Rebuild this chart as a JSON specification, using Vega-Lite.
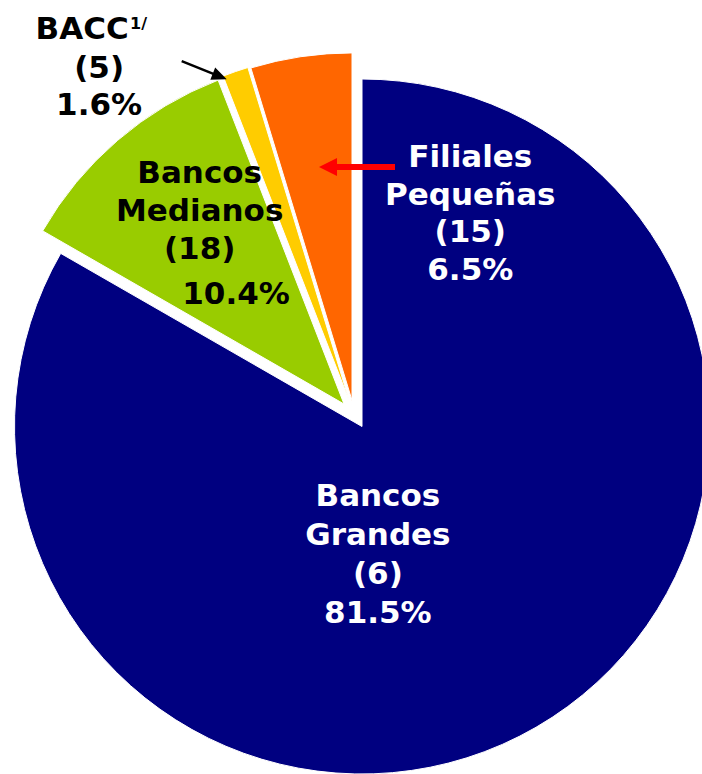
{
  "$schema": "https://vega.github.io/schema/vega-lite/v6.json",
  "width": 702,
  "height": 774,
  "padding": 0,
  "autosize": {"type": "none"},
  "background": "white",
  "config": {"view": {"stroke": null}},
  "data": {
    "values": [
      {"cat": "Bancos Grandes", "order": 1, "share": 83.3, "n": 6, "name": "Bancos Grandes", "label": ["Bancos", "Grandes", "(6)", "81.5%"], "pct": "81.5%", "sup": ""},
      {"cat": "Bancos Medianos", "order": 2, "share": 10.8, "n": 18, "name": "Bancos Medianos", "label": ["Bancos", "Medianos", "(18)"], "pct": "10.4%", "sup": ""},
      {"cat": "BACC", "order": 3, "share": 1.2, "n": 5, "name": "BACC", "label": ["(5)", "1.6%"], "pct": "1.6%", "sup": "1/"},
      {"cat": "Filiales Pequeñas", "order": 4, "share": 4.7, "n": 15, "name": "Filiales Pequeñas", "label": ["Filiales", "Pequeñas", "(15)", "6.5%"], "pct": "6.5%", "sup": ""}
    ]
  },
  "transform": [
    {"stack": "share", "groupby": [], "sort": [{"field": "order", "order": "ascending"}], "as": ["s0", "s1"]}
  ],
  "layer": [
    {
      "transform": [{"filter": "datum.cat === 'Bancos Grandes'"}],
      "mark": {"type": "arc", "outerRadius": 347.5, "xOffset": 11, "yOffset": 39.5, "stroke": "white", "strokeWidth": 1},
      "encoding": {
        "theta": {"field": "s0", "type": "quantitative", "scale": {"domain": [0, 100]}},
        "theta2": {"field": "s1"},
        "color": {"field": "cat", "type": "nominal", "legend": null,
          "scale": {"domain": ["Bancos Grandes", "Bancos Medianos", "BACC", "Filiales Pequeñas"], "range": ["#000080", "#99CC00", "#FFCC00", "#FF6600"]}}
      }
    },
    {
      "transform": [{"filter": "datum.cat === 'Bancos Medianos'"}],
      "mark": {"type": "arc", "outerRadius": 347.5, "xOffset": -7, "yOffset": 17, "stroke": "white", "strokeWidth": 1},
      "encoding": {
        "theta": {"field": "s0", "type": "quantitative", "scale": {"domain": [0, 100]}},
        "theta2": {"field": "s1"},
        "color": {"field": "cat", "type": "nominal", "legend": null}
      }
    },
    {
      "transform": [{"filter": "datum.cat === 'BACC'"}],
      "mark": {"type": "arc", "outerRadius": 347.5, "xOffset": -2, "yOffset": 13, "stroke": "white", "strokeWidth": 1},
      "encoding": {
        "theta": {"field": "s0", "type": "quantitative", "scale": {"domain": [0, 100]}},
        "theta2": {"field": "s1"},
        "color": {"field": "cat", "type": "nominal", "legend": null}
      }
    },
    {
      "transform": [{"filter": "datum.cat === 'Filiales Pequeñas'"}],
      "mark": {"type": "arc", "outerRadius": 347.5, "xOffset": 1, "yOffset": 13.4, "stroke": "white", "strokeWidth": 1},
      "encoding": {
        "theta": {"field": "s0", "type": "quantitative", "scale": {"domain": [0, 100]}},
        "theta2": {"field": "s1"},
        "color": {"field": "cat", "type": "nominal", "legend": null}
      }
    },
    {
      "mark": {"type": "text", "font": "DejaVu Sans", "fontWeight": "bold", "fontSize": 31, "color": "white", "align": "center", "baseline": "alphabetic", "radius": 137.5, "dx": -42, "lineHeight": 39},
      "encoding": {
        "theta": {"field": "share", "type": "quantitative", "stack": true, "scale": {"domain": [0, 100]}},
        "order": {"field": "order"},
        "text": {"condition": {"test": "datum.cat === 'Bancos Grandes'", "field": "label"}, "value": ""}
      }
    },
    {
      "mark": {"type": "text", "font": "DejaVu Sans", "fontWeight": "bold", "fontSize": 31, "color": "black", "align": "center", "baseline": "alphabetic", "radius": 269, "dx": 24, "lineHeight": 38},
      "encoding": {
        "theta": {"field": "share", "type": "quantitative", "stack": true, "scale": {"domain": [0, 100]}},
        "order": {"field": "order"},
        "text": {"condition": {"test": "datum.cat === 'Bancos Medianos'", "field": "label"}, "value": ""}
      }
    },
    {
      "mark": {"type": "text", "font": "DejaVu Sans", "fontWeight": "bold", "fontSize": 31, "color": "black", "align": "center", "baseline": "alphabetic", "radius": 109.5, "dx": -43.6},
      "encoding": {
        "theta": {"field": "share", "type": "quantitative", "stack": true, "scale": {"domain": [0, 100]}},
        "order": {"field": "order"},
        "text": {"condition": {"test": "datum.cat === 'Bancos Medianos'", "field": "pct"}, "value": ""}
      }
    },
    {
      "mark": {"type": "text", "font": "DejaVu Sans", "fontWeight": "bold", "fontSize": 31, "color": "white", "align": "center", "baseline": "alphabetic", "radius": 222.4, "dx": 152, "lineHeight": 37.5},
      "encoding": {
        "theta": {"field": "share", "type": "quantitative", "stack": true, "scale": {"domain": [0, 100]}},
        "order": {"field": "order"},
        "text": {"condition": {"test": "datum.cat === 'Filiales Pequeñas'", "field": "label"}, "value": ""}
      }
    },
    {
      "mark": {"type": "text", "font": "DejaVu Sans", "fontWeight": "bold", "fontSize": 31, "color": "black", "align": "center", "baseline": "alphabetic", "radius": 368, "dx": -148.6},
      "encoding": {
        "theta": {"field": "share", "type": "quantitative", "stack": true, "scale": {"domain": [0, 100]}},
        "order": {"field": "order"},
        "text": {"condition": {"test": "datum.cat === 'BACC'", "field": "name"}, "value": ""}
      }
    },
    {
      "mark": {"type": "text", "font": "DejaVu Sans", "fontWeight": "bold", "fontSize": 16, "color": "black", "align": "left", "baseline": "alphabetic", "radius": 379, "dx": -97},
      "encoding": {
        "theta": {"field": "share", "type": "quantitative", "stack": true, "scale": {"domain": [0, 100]}},
        "order": {"field": "order"},
        "text": {"condition": {"test": "datum.cat === 'BACC'", "field": "sup"}, "value": ""}
      }
    },
    {
      "mark": {"type": "text", "font": "DejaVu Sans", "fontWeight": "bold", "fontSize": 31, "color": "black", "align": "center", "baseline": "alphabetic", "radius": 327, "dx": -145, "lineHeight": 37},
      "encoding": {
        "theta": {"field": "share", "type": "quantitative", "stack": true, "scale": {"domain": [0, 100]}},
        "order": {"field": "order"},
        "text": {"condition": {"test": "datum.cat === 'BACC'", "field": "label"}, "value": ""}
      }
    },
    {
      "transform": [{"filter": "datum.cat === 'BACC'"}],
      "mark": {"type": "point", "filled": true, "color": "black", "opacity": 1, "size": 2352, "angle": 21.8, "xOffset": -146.8, "yOffset": -316.8,
        "shape": "M 1 0 L 0.38 -0.27 L 0.38 -0.052 L -1 -0.052 L -1 0.052 L 0.38 0.052 L 0.38 0.27 Z"},
      "encoding": {}
    },
    {
      "transform": [{"filter": "datum.cat === 'Filiales Pequeñas'"}],
      "mark": {"type": "point", "filled": true, "color": "#FF0000", "opacity": 1, "size": 5776, "xOffset": 6, "yOffset": -220,
        "shape": "M -1 0 L -0.526 -0.237 L -0.526 -0.079 L 1 -0.079 L 1 0.079 L -0.526 0.079 L -0.526 0.237 Z"},
      "encoding": {}
    }
  ]
}
